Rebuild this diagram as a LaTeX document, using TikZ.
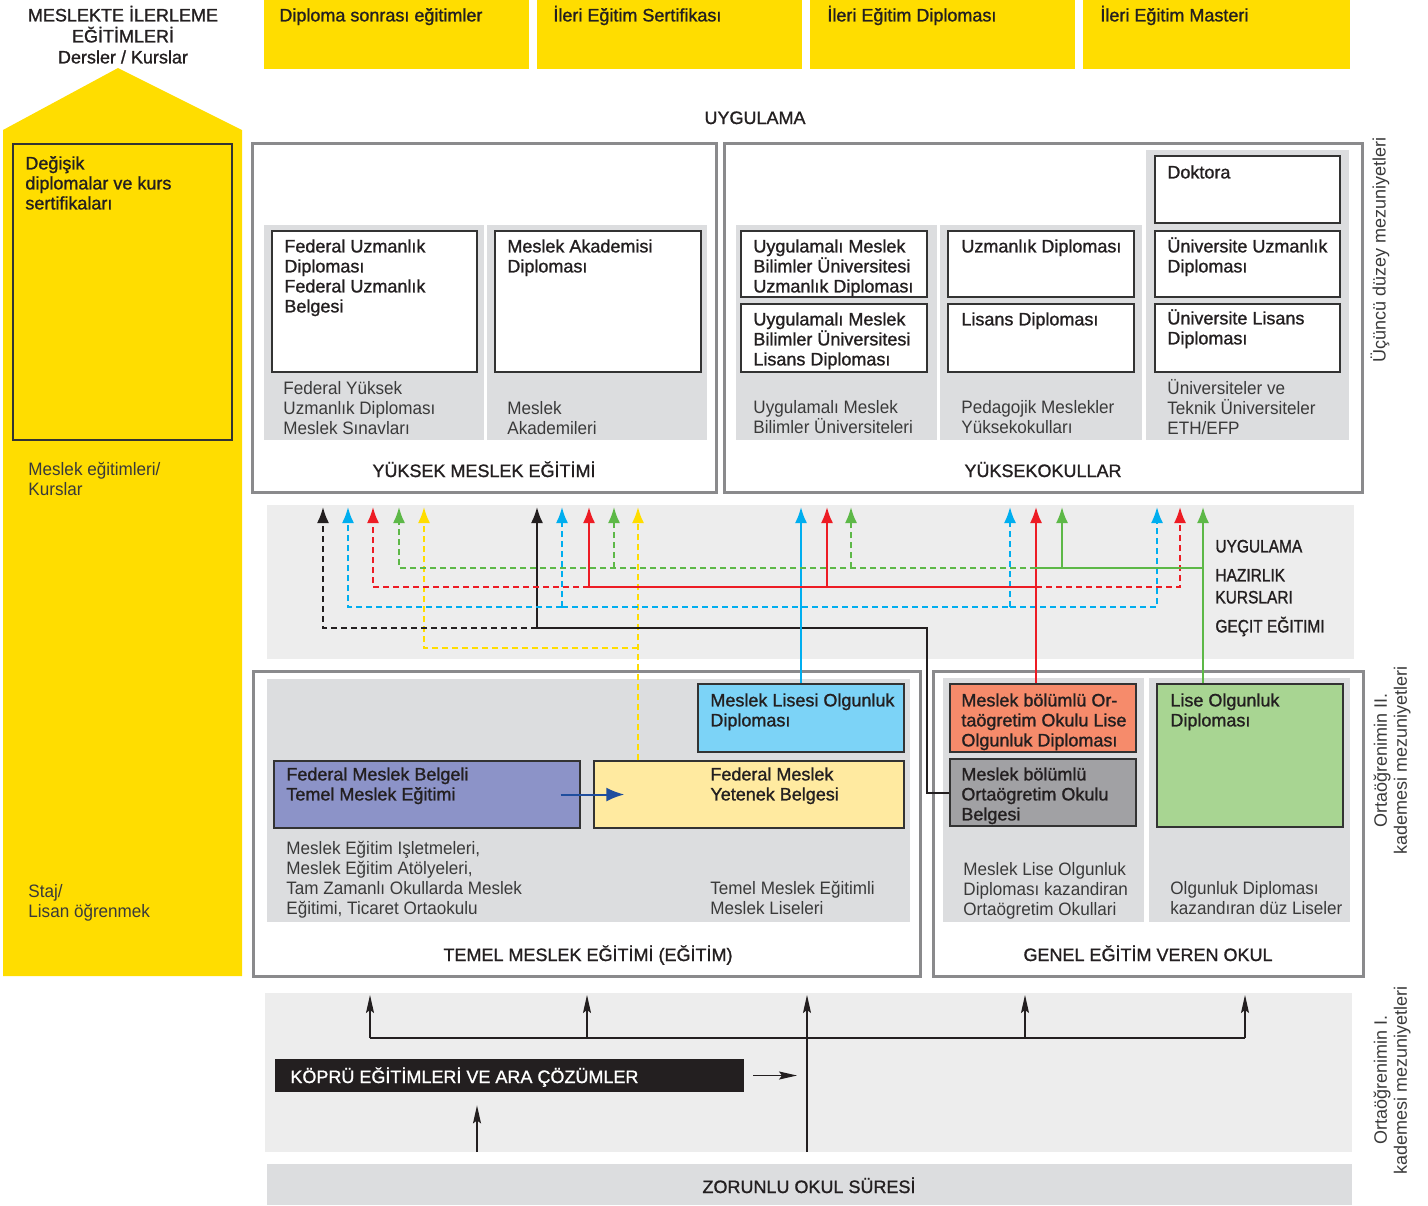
\documentclass[tikz,border=0pt]{standalone}
\usepackage{fontspec}
\setmainfont{Liberation Sans}
\newfontfamily\medf{Liberation Sans}[FakeBold=1.2]
\newfontfamily\grayf{Liberation Sans}[FakeStretch=0.95]
\newfontfamily\condf{Liberation Sans}[FakeStretch=0.86,FakeBold=1.2]
\usetikzlibrary{arrows.meta,fit}
\definecolor{ylw}{HTML}{FFDD00}
\definecolor{panelgray}{HTML}{DCDDDF}
\definecolor{bandgray}{HTML}{EDEDED}
\definecolor{bordergray}{HTML}{8A8A8C}
\definecolor{boxline}{HTML}{333333}
\definecolor{ink}{HTML}{231F20}
\definecolor{ink2}{HTML}{3A3A3A}
\definecolor{lnblue}{HTML}{00AEEF}
\definecolor{lnred}{HTML}{ED1C24}
\definecolor{lngreen}{HTML}{5DB847}
\definecolor{lnyellow}{HTML}{FFDD00}
\definecolor{lnblack}{HTML}{231F20}
\definecolor{fblue}{HTML}{7CD3F7}
\definecolor{fpurple}{HTML}{8C93C8}
\definecolor{fyellow}{HTML}{FFEAA0}
\definecolor{forange}{HTML}{F68B6B}
\definecolor{fgray}{HTML}{A1A1A4}
\definecolor{fgreen}{HTML}{A8D592}
\definecolor{arrblue}{HTML}{1F4E9E}
\newcommand{\myfs}{\fontsize{9}{10}\selectfont\lineskiplimit=-10pt}
\newcommand{\mystrut}{\rule{0pt}{8.5pt}}
\tikzset{
  big/.style={draw=bordergray, line width=1.5pt, inner sep=0pt},
  panel/.style={fill=panelgray, inner sep=0pt},
  band/.style={fill=bandgray, inner sep=0pt},
  wbox/.style={draw=boxline, fill=white, line width=0.7pt, inner sep=0pt},
  cbox/.style={draw=boxline, line width=0.7pt, inner sep=0pt},
  lbl/.style={anchor=north west, inner sep=0pt, align=left, font=\myfs\medf, text=ink},
  glbl/.style={lbl, font=\myfs\grayf, text=ink2},
  blbl/.style={lbl, font=\myfs\condf},
  ttl/.style={anchor=base, inner sep=0pt, font=\myfs\medf, text=ink},
  side/.style={rotate=90, inner sep=0pt, align=center, font=\myfs, text=ink2},
  flow/.style={line width=1pt},
  dsh/.style={dash pattern=on 3pt off 2pt},
  tip/.style={-{Latex[length=8pt,width=6pt]}},
  btip/.style={-{Stealth[length=9pt,width=4pt,inset=1.5pt]}, line width=0.6pt, draw=ink}
}
\begin{document}
\begin{tikzpicture}[x=0.5pt,y=-0.5pt]
\useasboundingbox (0,0) rectangle (1428,1205);

% ---------- left column ----------
\fill[ylw] (3,130) -- (118,68) -- (242,130) -- (242,976) -- (3,976) -- cycle;
\node[fit={(13,144)(232,440)}, draw=boxline, line width=0.6pt, inner sep=0pt] (dk) {};
\node[lbl] (dkt) at (25,152) {\mystrut Değişik\\diplomalar ve kurs\\sertifikaları};
\node[lbl, anchor=north, align=center] (hdr) at (123,4) {\mystrut MESLEKTE İLERLEME\\[0.5pt]EĞİTİMLERİ\\[0.5pt]Dersler / Kurslar};
\node[glbl] (mek) at (28,458) {\mystrut Meslek eğitimleri/\\Kurslar};
\node[glbl] (staj) at (28,880) {\mystrut Staj/\\Lisan öğrenmek};

% ---------- top yellow boxes ----------
\node[fit={(264,0)(529,69)}, fill=ylw, inner sep=0pt] (p1) {};
\node[fit={(537,0)(802,69)}, fill=ylw, inner sep=0pt] (p2) {};
\node[fit={(810,0)(1075,69)}, fill=ylw, inner sep=0pt] (p3) {};
\node[fit={(1083,0)(1350,69)}, fill=ylw, inner sep=0pt] (p4) {};
\node[lbl] (p1t) at (279,4) {\mystrut Diploma sonrası eğitimler};
\node[lbl] (p2t) at (553,4) {\mystrut İleri Eğitim Sertifikası};
\node[lbl] (p3t) at (827,4) {\mystrut İleri Eğitim Diploması};
\node[lbl] (p4t) at (1100,4) {\mystrut İleri Eğitim Masteri};

\node[ttl] (uyg) at (755,124) {UYGULAMA};

% ---------- higher professional education ----------
\node[fit={(252,143)(716,492)}, big] (hpe) {};
\node[fit={(264,225)(484,440)}, panel] (hp1) {};
\node[fit={(487,225)(707,440)}, panel] (hp2) {};
\node[fit={(272,231)(477,372)}, wbox] (fud) {};
\node[fit={(495,231)(701,372)}, wbox] (mad) {};
\node[lbl] at (284,235) {\mystrut Federal Uzmanlık\\Diploması\\Federal Uzmanlık\\Belgesi};
\node[lbl] at (507,235) {\mystrut Meslek Akademisi\\Diploması};
\node[glbl] at (283,377) {\mystrut Federal Yüksek\\Uzmanlık Diploması\\Meslek Sınavları};
\node[glbl] at (507,397) {\mystrut Meslek\\Akademileri};
\node[ttl] at (484,477) {YÜKSEK MESLEK EĞİTİMİ};

% ---------- universities ----------
\node[fit={(724,143)(1362,492)}, big] (uni) {};
\node[fit={(736,225)(937,440)}, panel] (up1) {};
\node[fit={(940,225)(1142,440)}, panel] (up2) {};
\node[fit={(1146,150)(1349,440)}, panel] (up3) {};
\node[fit={(741,231)(927,297)}, wbox] (a1) {};
\node[fit={(741,304)(927,372)}, wbox] (a2) {};
\node[fit={(948,231)(1134,297)}, wbox] (b1) {};
\node[fit={(948,304)(1134,372)}, wbox] (b2) {};
\node[fit={(1155,156)(1340,223)}, wbox] (c0) {};
\node[fit={(1155,231)(1340,297)}, wbox] (c1) {};
\node[fit={(1155,304)(1340,372)}, wbox] (c2) {};
\node[lbl] at (753,235) {\mystrut Uygulamalı Meslek\\Bilimler Üniversitesi\\Uzmanlık Diploması};
\node[lbl] at (753,308) {\mystrut Uygulamalı Meslek\\Bilimler Üniversitesi\\Lisans Diploması};
\node[lbl] at (961,235) {\mystrut Uzmanlık Diploması};
\node[lbl] at (961,308) {\mystrut Lisans Diploması};
\node[lbl] at (1167,161) {\mystrut Doktora};
\node[lbl] at (1167,235) {\mystrut Üniversite Uzmanlık\\Diploması};
\node[lbl] at (1167,307) {\mystrut Üniversite Lisans\\Diploması};
\node[glbl] at (753,396) {\mystrut Uygulamalı Meslek\\Bilimler Üniversiteleri};
\node[glbl] at (961,396) {\mystrut Pedagojik Meslekler\\Yüksekokulları};
\node[glbl] at (1167,377) {\mystrut Üniversiteler ve\\Teknik Üniversiteler\\ETH/EFP};
\node[ttl] at (1043,477) {YÜKSEKOKULLAR};
\node[side] at (1380,250) {Üçüncü düzey mezuniyetleri};

% ---------- middle band ----------
\node[fit={(267,505)(1354,659)}, band] (mid) {};
\node[blbl] at (1215,535) {\mystrut UYGULAMA};
\node[blbl] at (1215,564) {\mystrut HAZIRLIK\\[1pt]KURSLARI};
\node[blbl] at (1215,615) {\mystrut GEÇIT EĞITIMI};

% ---------- basic vocational education ----------
\node[fit={(253,671)(920,976)}, big] (bve) {};
\node[fit={(267,679)(910,922)}, panel] (bp) {};
\node[fit={(698,684)(904,752)}, cbox, fill=fblue] (mlo) {};
\node[fit={(274,761)(580,828)}, cbox, fill=fpurple] (fmb) {};
\node[fit={(594,761)(904,828)}, cbox, fill=fyellow] (fmyb) {};
\node[lbl] at (710,689) {\mystrut Meslek Lisesi Olgunluk\\Diploması};
\node[lbl] at (286,763) {\mystrut Federal Meslek Belgeli\\Temel Meslek Eğitimi};
\node[lbl] at (710,763) {\mystrut Federal Meslek\\Yetenek Belgesi};
\node[glbl] at (286,837) {\mystrut Meslek Eğitim Işletmeleri,\\Meslek Eğitim Atölyeleri,\\Tam Zamanlı Okullarda Meslek\\Eğitimi, Ticaret Ortaokulu};
\node[glbl] at (710,877) {\mystrut Temel Meslek Eğitimli\\Meslek Liseleri};
\node[ttl] at (588,961) {TEMEL MESLEK EĞİTİMİ (EĞİTİM)};
\draw[arrblue, line width=1pt, -{Latex[length=9pt,width=7pt]}] ([xshift=-10pt]fmb.east) -- ([xshift=15.5pt]fmyb.west);

% ---------- general education ----------
\node[fit={(933,671)(1363,976)}, big] (gen) {};
\node[fit={(943,678)(1144,922)}, panel] (gp1) {};
\node[fit={(1149,678)(1350,922)}, panel] (gp2) {};
\node[fit={(950,684)(1136,752)}, cbox, fill=forange] (omd) {};
\node[fit={(950,759)(1136,826)}, cbox, fill=fgray] (mbo) {};
\node[fit={(1157,684)(1343,827)}, cbox, fill=fgreen] (lod) {};
\node[lbl] at (961,689) {\mystrut Meslek bölümlü Or-\\taögretim Okulu Lise\\Olgunluk Diploması};
\node[lbl] at (961,763) {\mystrut Meslek bölümlü\\Ortaögretim Okulu\\Belgesi};
\node[lbl] at (1170,689) {\mystrut Lise Olgunluk\\Diploması};
\node[glbl] at (963,858) {\mystrut Meslek Lise Olgunluk\\Diploması kazandiran\\Ortaögretim Okullari};
\node[glbl] at (1170,877) {\mystrut Olgunluk Diploması\\kazandıran düz Liseler};
\node[ttl] at (1148,961) {GENEL EĞİTİM VEREN OKUL};
\node[side] at (1392,760) {Ortaöğrenimin II.\\kademesi mezuniyetleri};

% ---------- connectors (middle) ----------
\foreach \n/\x in {k1/323,b1/348,r1/373,g1/399,y1/424,k2/537,b2/562,r2/589,g2/614,y2/638,b3/801,r3/827,g3/851,b4/1010,r4/1036,g4/1062,b5/1157,r5/1180,g5/1203}
  \coordinate (t\n) at (\x,507);
\coordinate (hg) at (0,568);
\coordinate (hr) at (0,587);
\coordinate (hb) at (0,607);
\coordinate (hk) at (0,628);
\coordinate (hy) at (0,648);
\coordinate (xk) at (927,0);

% yellow
\draw[flow,lnyellow,dsh,tip] (fmyb.north -| ty2) -- (ty2);
\draw[flow,lnyellow,dsh,tip] (ty2 |- hy) -- (ty1 |- hy) -- (ty1);
% black
\draw[flow,lnblack,tip] (mbo.west) -- (mbo.west -| xk) -- (xk |- hk) -- (tk2 |- hk) -- (tk2);
\draw[flow,lnblack,dsh,tip] (tk2 |- hk) -- (tk1 |- hk) -- (tk1);
% blue
\draw[flow,lnblue,dsh,tip] (tb2 |- hb) -- (tb1 |- hb) -- (tb1);
\draw[flow,lnblue,dsh,tip] (tb2 |- hb) -- (tb2);
\draw[flow,lnblue,dsh] (tb2 |- hb) -- (tb4 |- hb);
\draw[flow,lnblue,dsh,tip] (tb4 |- hb) -- (tb4);
\draw[flow,lnblue,dsh,tip] (tb4 |- hb) -- (tb5 |- hb) -- (tb5);
\draw[flow,lnblue,tip] (mlo.north -| tb3) -- (tb3);
% red
\draw[flow,lnred,dsh,tip] (tr2 |- hr) -- (tr1 |- hr) -- (tr1);
\draw[flow,lnred,dsh,tip] (tr4 |- hr) -- (tr5 |- hr) -- (tr5);
\draw[flow,lnred,tip] (tr4 |- hr) -- (tr2 |- hr) -- (tr2);
\draw[flow,lnred,tip] (tr3 |- hr) -- (tr3);
\draw[flow,lnred,tip] (omd.north -| tr4) -- (tr4);
% green
\draw[flow,lngreen,dsh,tip] (tr4 |- hg) -- (tg1 |- hg) -- (tg1);
\draw[flow,lngreen,dsh,tip] (tg2 |- hg) -- (tg2);
\draw[flow,lngreen,dsh,tip] (tg3 |- hg) -- (tg3);
\draw[flow,lngreen] (tg4 |- hg) -- (tr4 |- hg);
\draw[flow,lngreen,tip] (tg5 |- hg) -- (tg4 |- hg) -- (tg4);
\draw[flow,lngreen,tip] (lod.north -| tg5) -- (tg5);

% ---------- bottom ----------
\node[fit={(265,993)(1352,1152)}, band] (low) {};
\node[fit={(267,1164)(1352,1205)}, fill=panelgray, inner sep=0pt] (zor) {};
\node[ttl] at (809,1193) {ZORUNLU OKUL SÜRESİ};
\node[fit={(275,1059)(744,1092)}, fill=ink, inner sep=0pt] (kop) {};
\node[anchor=base west, inner sep=0pt, font=\myfs\medf, text=white] at (290,1083) {KÖPRÜ EĞİTİMLERİ VE ARA ÇÖZÜMLER};
\node[side] at (1392,1080) {Ortaöğrenimin I.\\kademesi mezuniyetleri};

\foreach \n/\x in {1/370,2/587,3/807,4/1025,5/1245}
  \coordinate (ba\n) at (\x,995);
\coordinate (hl) at (0,1038);
\coordinate (zb) at (807,1152);
\coordinate (kb) at (477,1152);
\draw[ink, line width=1pt] (ba1 |- hl) -- (ba5 |- hl);
\draw[btip] (ba1 |- hl) -- (ba1);
\draw[btip] (ba2 |- hl) -- (ba2);
\draw[btip] (ba4 |- hl) -- (ba4);
\draw[btip] (ba5 |- hl) -- (ba5);
\draw[btip] (zb) -- (ba3);
\draw[btip, line width=0.8pt] ([xshift=4.5pt]kop.east) -- ([xshift=-5pt]kop.east -| ba3);
\draw[btip] (kb) -- ([yshift=-6.5pt]kop.south -| kb);
\end{tikzpicture}
\end{document}
